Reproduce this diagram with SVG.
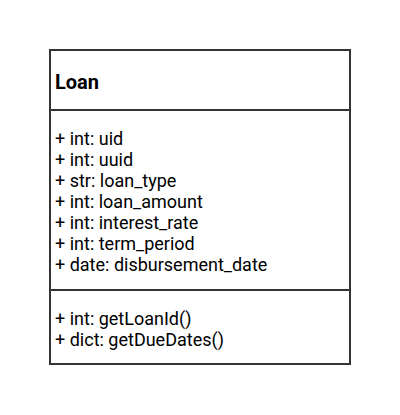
<svg xmlns="http://www.w3.org/2000/svg" width="400" height="415" viewBox="0 0 400 415">
<style>
.box{fill:#fff;stroke:#333;stroke-width:2}
.sep{stroke:#333;stroke-width:2}
.t{font-family:Roboto,"Liberation Sans",sans-serif;font-size:18px;fill:#000}
.h{font-family:Roboto,"Liberation Sans",sans-serif;font-size:20px;font-weight:bold;fill:#000}
</style>
<rect width="400" height="415" fill="#fff"/>
<g id="loan">
<rect class="box" x="50" y="50" width="300" height="314"/>
<line class="sep" x1="50" y1="110" x2="350" y2="110"/>
<line class="sep" x1="50" y1="290" x2="350" y2="290"/>
<text class="h" x="55" y="89">Loan</text>
<text class="t" x="55" y="145">+ int: uid</text>
<text class="t" x="55" y="166">+ int: uuid</text>
<text class="t" x="55" y="187">+ str: loan_type</text>
<text class="t" x="55" y="208">+ int: loan_amount</text>
<text class="t" x="55" y="229">+ int: interest_rate</text>
<text class="t" x="55" y="250">+ int: term_period</text>
<text class="t" x="55" y="271">+ date: disbursement_date</text>
<text class="t" x="55" y="325">+ int: getLoanId()</text>
<text class="t" x="55" y="346">+ dict: getDueDates()</text>
</g>
<g id="connectors"/>
</svg>
